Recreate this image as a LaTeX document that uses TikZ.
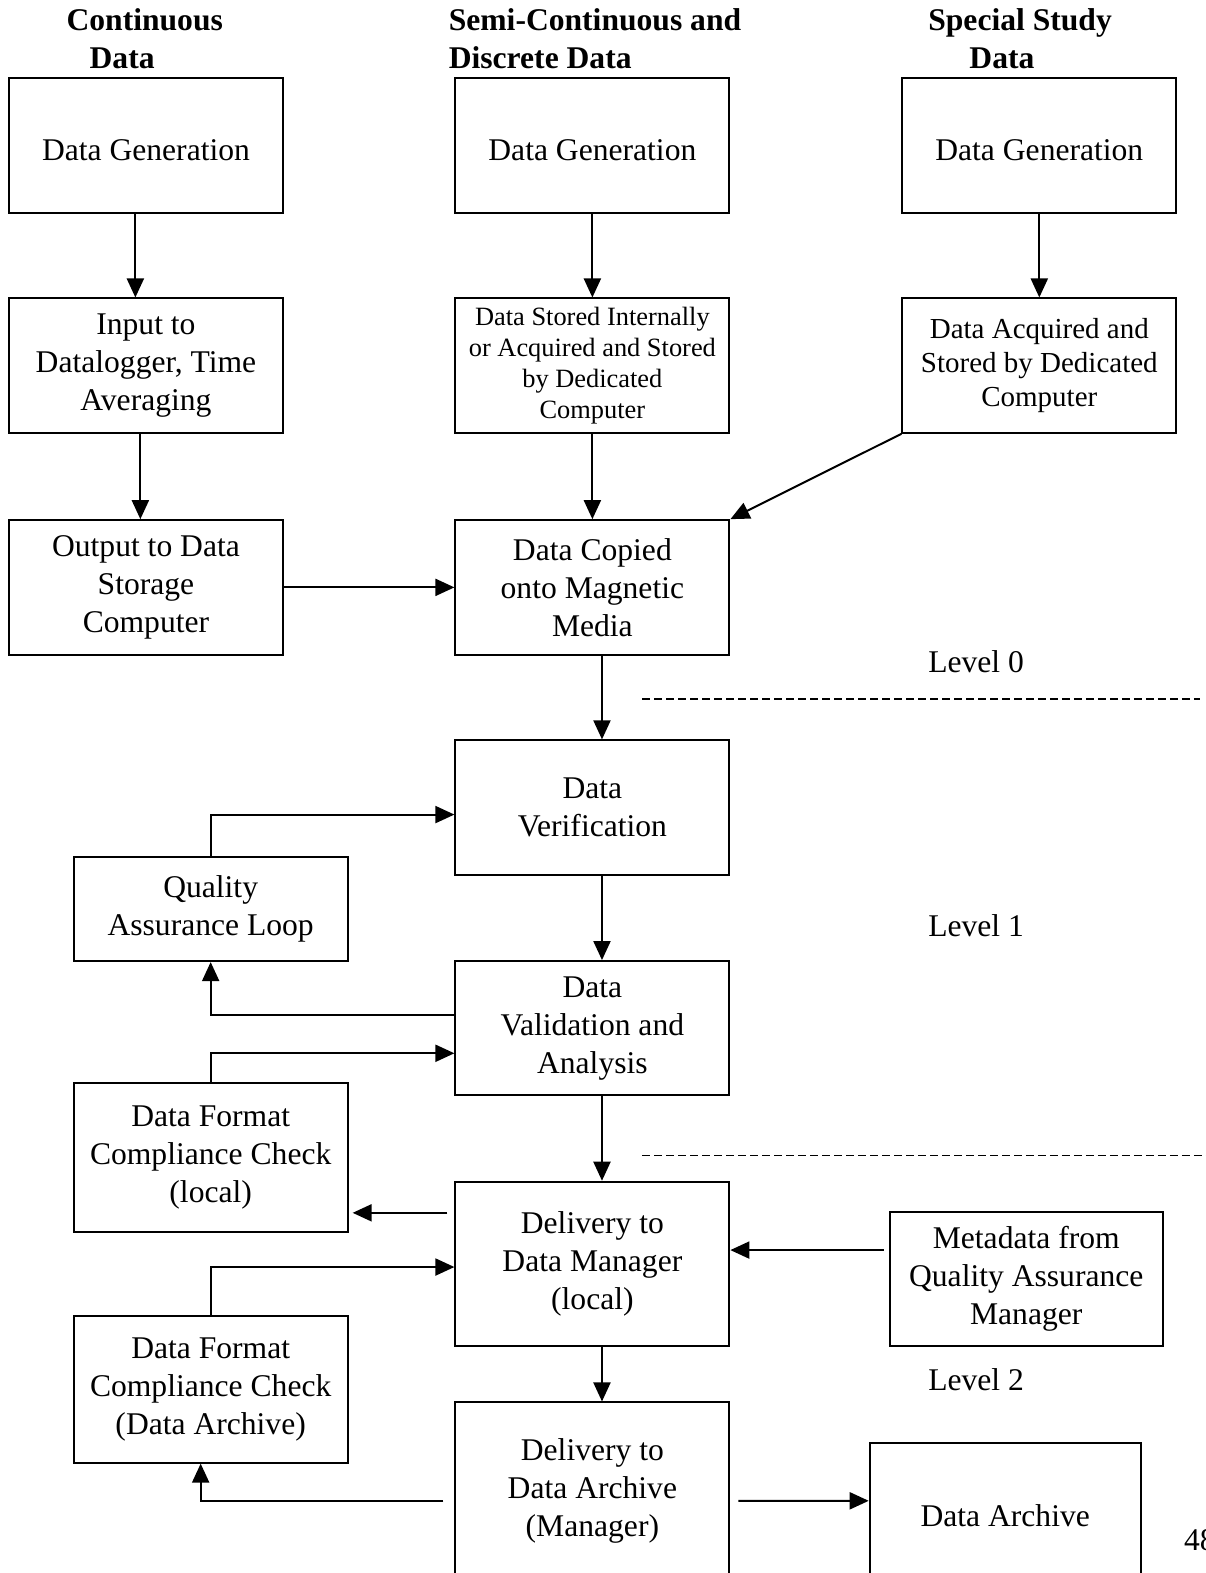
\documentclass[tikz,border=0pt]{standalone}
\usepackage{fontspec}
\setmainfont{Liberation Serif}
\usetikzlibrary{arrows.meta}

\tikzset{
  box/.style={draw, line width=1pt, minimum width=137pt, minimum height=67.2pt,
    align=center, inner sep=0pt, font=\fontsize{15.8}{19}\selectfont,
    execute at begin node={\rule{0pt}{15pt}}},
  head/.style={anchor=base west, inner sep=0pt, font=\fontsize{15.8}{19}\selectfont\bfseries},
  lvl/.style={inner sep=0pt, font=\fontsize{15.8}{19}\selectfont},
  arr/.style={line width=1pt, -{Triangle[length=9.5pt,width=8.5pt]}},
  sep/.style={line width=0.8pt, dash pattern=on 4pt off 2pt}
}

\begin{document}
\begin{tikzpicture}[x=0.50166pt, y=-0.50166pt]
\useasboundingbox (0,0) rectangle (1202,1568);
\clip (0,0) rectangle (1202,1568);

% column headings
\node[head] at (66,30.5) {Continuous};
\node[head] at (89,68.5) {Data};
\node[head] at (447,30.5) {Semi-Continuous and};
\node[head] at (447,68.5) {Discrete Data};
\node[head] at (925,30.5) {Special Study};
\node[head] at (966,68.5) {Data};

% level 0
\node[box] (cgen) at (145.5,145) {Data Generation};
\node[box] (sgen) at (590.5,145) {Data Generation};
\node[box] (pgen) at (1036,145) {Data Generation};
\node[box] (cinput) at (145.5,364.5) {Input to\\Datalogger, Time\\Averaging};
\node[box, font=\fontsize{13.2}{15.55}\selectfont] (sstore) at (590.5,364.5)
  {Data Stored Internally\\or Acquired and Stored\\by Dedicated\\Computer};
\node[box, font=\fontsize{14.5}{17}\selectfont] (pstore) at (1036,364.5)
  {Data Acquired and\\Stored by Dedicated\\Computer};
\node[box] (coutput) at (145.5,585.5) {Output to Data\\Storage\\Computer};
\node[box] (scopy) at (590.5,585.5) {Data Copied\\onto Magnetic\\Media};

% level 1
\node[box] (verif) at (590.5,805) {Data\\Verification};
\node[box, minimum height=52.2pt] (qaloop) at (210,906) {Quality\\Assurance Loop};
\node[box] (valid) at (590.5,1025) {Data\\Validation and\\Analysis};
\node[box, minimum height=74.7pt] (fmtlocal) at (210,1153.5) {Data Format\\Compliance Check\\(local)};

% level 2
\node[box, minimum height=82.3pt] (delman) at (590.5,1260) {Delivery to\\Data Manager\\(local)};
\node[box, minimum width=136.5pt] (meta) at (1023,1275) {Metadata from\\Quality Assurance\\Manager};
\node[box, minimum height=73.2pt] (fmtarch) at (210,1385) {Data Format\\Compliance Check\\(Data Archive)};
\node[box, minimum height=88.3pt] (delarch) at (590.5,1486) {Delivery to\\Data Archive\\(Manager)};
\node[box, minimum width=135.5pt, minimum height=69.2pt] (archive) at (1002,1507) {Data Archive};

% level labels and separators
\node[lvl] at (973,660) {Level 0};
\node[lvl] at (973,923) {Level 1};
\node[lvl] at (973,1375) {Level 2};
\node[lvl, anchor=west] at (1180,1535) {48};
\draw[sep] (640,697) -- (1196,697);
\draw[sep] (640,1152) -- (1206,1152);

% connectors
\draw[arr] ([xshift=-5.3pt]cgen.south) -- ([xshift=-5.3pt]cinput.north);
\draw[arr] ([xshift=-2.8pt]cinput.south) -- ([xshift=-2.8pt]coutput.north);
\draw[arr] (sgen) -- (sstore);
\draw[arr] (sstore) -- (scopy);
\draw[arr] (pgen) -- (pstore);
\draw[arr] (pstore.south west) -- (scopy.north east);
\draw[arr] (coutput) -- (scopy);
\draw[arr] ([xshift=4.8pt]scopy.south) -- ([xshift=4.8pt]verif.north);
\draw[arr] (qaloop.north) |- ([yshift=-3.5pt]verif.west);
\draw[arr] ([xshift=4.8pt]verif.south) -- ([xshift=4.8pt]valid.north);
\draw[arr] ([yshift=6.5pt]valid.west) -| (qaloop.south);
\draw[arr] (fmtlocal.north) |- ([yshift=-12.5pt]valid.west);
\draw[arr] ([xshift=4.8pt]valid.south) -- ([xshift=4.8pt]delman.north);
\draw[arr, shorten >=2pt] ([xshift=-3.5pt,yshift=25.6pt]delman.west) coordinate (dl) -- (dl -| fmtlocal.east);
\draw[arr] ([xshift=-2.5pt,yshift=14.5pt]meta.west) coordinate (mt) -- (mt -| delman.east);
\draw[arr] (fmtarch.north) |- ([yshift=-1.5pt]delman.west);
\draw[arr] ([xshift=4.8pt]delman.south) -- ([xshift=4.8pt]delarch.north);
\draw[arr] ([xshift=-5.5pt,yshift=-5pt]delarch.west) -| ([xshift=-5pt]fmtarch.south);
\draw[arr] ([xshift=4pt,yshift=-5pt]delarch.east) -- ([yshift=5.5pt]archive.west);
\end{tikzpicture}
\end{document}
